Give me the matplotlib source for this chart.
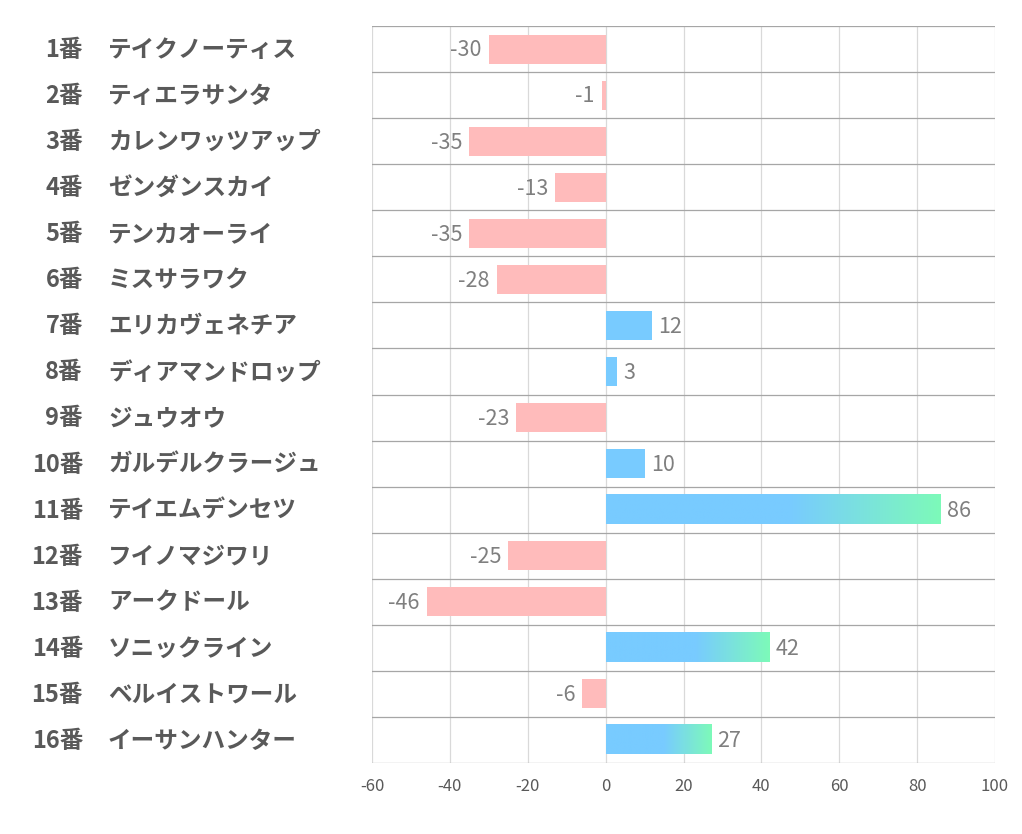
import numpy as np
import matplotlib.pyplot as plt
import matplotlib.transforms as mtransforms
from matplotlib.colors import LinearSegmentedColormap

plt.rcParams['font.family'] = ['Noto Sans CJK JP', 'DejaVu Sans']

# データ
numbers = ["1番", "2番", "3番", "4番", "5番", "6番", "7番", "8番",
           "9番", "10番", "11番", "12番", "13番", "14番", "15番", "16番"]
horses = ["テイクノーティス", "ティエラサンタ", "カレンワッツアップ", "ゼンダンスカイ",
          "テンカオーライ", "ミスサラワク", "エリカヴェネチア", "ディアマンドロップ",
          "ジュウオウ", "ガルデルクラージュ", "テイエムデンセツ", "フイノマジワリ",
          "アークドール", "ソニックライン", "ベルイストワール", "イーサンハンター"]
scores = [-30, -1, -35, -13, -35, -28, 12, 3, -23, 10, 86, -25, -46, 42, -6, 27]
xticks = [-60, -40, -20, 0, 20, 40, 60, 80, 100]

pink = "#FFBBBB"
blue = "#78CBFF"
green = "#7DFAB9"
text_col = "#595959"
val_col = "#7F7F7F"

fig = plt.figure(figsize=(10.22, 8.34), dpi=100)
ax = fig.add_axes([372 / 1022, 1 - 763 / 834, (995 - 372) / 1022, (763 - 26) / 834])

n = len(scores)
ypos = np.arange(n)
bar_h = 0.63

# グリッド
for x in xticks:
    ax.axvline(x, color="#D9D9D9", lw=0.9, zorder=0)
for y in np.arange(-0.5, n, 1.0):
    ax.axhline(y, color="#A6A6A6", lw=0.9, zorder=0)

cmap = LinearSegmentedColormap.from_list("bg", [(0, blue), (0.55, blue), (1, green)])
grad = np.linspace(0, 1, 256).reshape(1, -1)

for y, v in zip(ypos, scores):
    if v < 0:
        ax.barh(y, v, height=bar_h, color=pink, zorder=2)
        ax.text(v - 1.8, y + 0.03, str(v), ha="right", va="center", fontsize=15.5,
                color=val_col, zorder=3)
    else:
        if v >= 20:
            ax.imshow(grad, cmap=cmap, aspect="auto", zorder=2,
                      extent=(0, v, y + bar_h / 2, y - bar_h / 2))
        else:
            ax.barh(y, v, height=bar_h, color=blue, zorder=2)
        ax.text(v + 1.6, y + 0.03, str(v), ha="left", va="center", fontsize=15.5,
                color=val_col, zorder=3)

ax.set_xlim(-60, 100)
ax.set_ylim(n - 0.5, -0.5)

# 左側のラベル
trans = mtransforms.blended_transform_factory(fig.transFigure, ax.transData)
for y, num, name in zip(ypos, numbers, horses):
    ax.text(83 / 1022, y + 0.02, num, transform=trans, ha="right", va="center",
            fontsize=17, fontweight="bold", color=text_col)
    ax.text(108 / 1022, y + 0.02, name, transform=trans, ha="left", va="center",
            fontsize=17, fontweight="bold", color=text_col)

ax.set_xticks(xticks)
ax.set_xticklabels([str(t) for t in xticks], fontsize=12, color=text_col)
ax.set_yticks([])
ax.tick_params(axis="x", length=0, pad=11)
for s in ax.spines.values():
    s.set_visible(False)

plt.savefig("out.png", dpi=100)
